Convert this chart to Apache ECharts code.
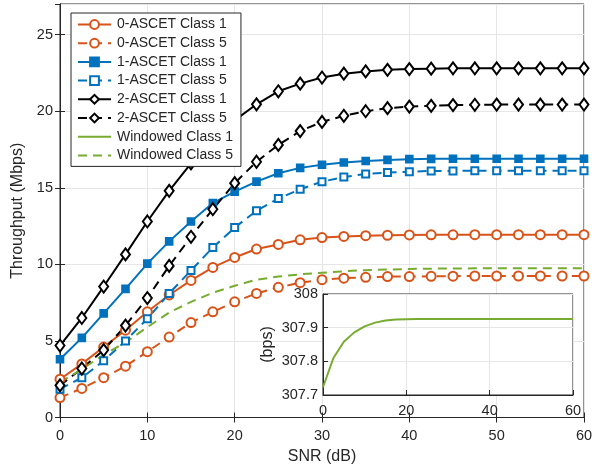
<!DOCTYPE html>
<html>
<head>
<meta charset="utf-8">
<script src="https://cdn.jsdelivr.net/npm/echarts@6/dist/echarts.min.js"></script>
<style>html,body{margin:0;padding:0;background:#fff;}#c{width:605px;height:470px;}</style>
</head>
<body>
<div id="c"></div>
<script>
const snr = [0,2.5,5,7.5,10,12.5,15,17.5,20,22.5,25,27.5,30,32.5,35,37.5,40,42.5,45,47.5,50,52.5,55,57.5,60];
const ascet0Class1 = [2.5,3.5,4.6,5.7,6.9,8.0,8.95,9.8,10.45,11.0,11.3,11.6,11.75,11.82,11.87,11.9,11.92,11.93,11.93,11.94,11.94,11.94,11.94,11.94,11.94];
const ascet0Class5 = [1.3,1.9,2.6,3.35,4.3,5.25,6.2,6.9,7.55,8.1,8.5,8.8,9.0,9.1,9.15,9.2,9.2,9.22,9.23,9.24,9.24,9.24,9.24,9.24,9.24];
const ascet1Class1 = [3.8,5.2,6.8,8.4,10.05,11.5,12.8,14.0,14.75,15.4,15.95,16.3,16.5,16.65,16.75,16.82,16.87,16.89,16.9,16.9,16.9,16.9,16.9,16.9,16.9];
const ascet1Class5 = [1.85,2.6,3.7,5.0,6.45,8.1,9.6,11.1,12.4,13.5,14.3,14.9,15.4,15.7,15.9,16.0,16.05,16.1,16.1,16.12,16.12,16.12,16.12,16.12,16.12];
const ascet2Class1 = [4.7,6.5,8.55,10.65,12.8,14.8,16.6,18.1,19.4,20.45,21.3,21.8,22.2,22.45,22.6,22.7,22.75,22.78,22.8,22.8,22.8,22.8,22.8,22.8,22.8];
const ascet2Class5 = [2.1,3.2,4.4,6.0,7.8,9.9,11.8,13.6,15.3,16.7,17.8,18.7,19.3,19.7,20.0,20.2,20.3,20.35,20.4,20.42,20.43,20.43,20.43,20.43,20.43];
const windowedClass5 = [2.3,3.15,4.1,4.9,5.9,6.85,7.55,8.15,8.6,9.0,9.2,9.35,9.45,9.55,9.62,9.66,9.7,9.72,9.73,9.74,9.75,9.75,9.75,9.75,9.75];
const windowedClass1Bps = [307.723,307.81,307.858,307.886,307.904,307.915,307.921,307.924,307.925,307.926,307.926,307.926,307.926,307.926,307.926,307.926,307.926,307.926,307.926,307.926,307.926,307.926,307.926,307.926,307.926];
const xTicks = {min:0, max:60, interval:10};
const yTicks = {min:0, max:27, interval:5};
const insetXTicks = {min:0, max:60, interval:20};
const insetYTicks = {min:307.7, max:308, interval:0.1};

const windowedClass1Mbps = windowedClass1Bps.map(v => v / 1e6);
const pairs = arr => snr.map((x, i) => [x, arr[i]]);

const ORANGE = '#D95319', BLUE = '#0072BD', BLACK = '#000000', GREEN = '#77AC30', AX = '#262626';
const FONT = 'Liberation Sans';
const TICK_FS = 14.5, TITLE_FS = 16, LEGEND_FS = 14;

function ser(name, data, color, dashed, symbol, size, extra) {
  return Object.assign({
    name, type: 'line', data: pairs(data), xAxisIndex: 0, yAxisIndex: 0,
    symbol: symbol || 'circle', symbolSize: symbol ? size : 0, showSymbol: !!symbol,
    color: color,
    lineStyle: {color, width: 2, type: dashed ? [9, 6] : 'solid'},
    itemStyle: {color, borderColor: color, borderWidth: 1.6},
    animation: false, silent: true, z: 2
  }, extra || {});
}

const axisCommon = {
  axisLine: {show: true, lineStyle: {color: AX, width: 1}},
  axisTick: {show: true, inside: true, length: 5, lineStyle: {color: AX}},
  axisLabel: {color: AX, fontFamily: FONT, fontSize: TICK_FS},
  splitLine: {show: false}
};

const noSymbol = {color: 'rgba(0,0,0,0)', borderColor: 'rgba(0,0,0,0)', opacity: 0};

const option = {
  backgroundColor: '#fff',
  animation: false,
  grid: [
    {left: 60, right: 21, top: 4, bottom: 52.5, show: true, borderColor: AX, borderWidth: 1, z: 0},
    {left: 323, top: 294, width: 250, height: 101, show: true, borderColor: AX, borderWidth: 1, backgroundColor: '#fff', z: 3}
  ],
  legend: {
    orient: 'vertical', left: 71, top: 13,
    padding: [4.5, 8, 4, 6],
    itemWidth: 33, itemHeight: 11, itemGap: 4.7,
    backgroundColor: '#fff', borderColor: AX, borderWidth: 1, borderRadius: 0,
    textStyle: {color: AX, fontFamily: FONT, fontSize: LEGEND_FS, padding: [0,0,0,1], lineHeight: 14},
    data: ['0-ASCET Class 1','0-ASCET Class 5','1-ASCET Class 1','1-ASCET Class 5','2-ASCET Class 1','2-ASCET Class 5',
      {name: 'Windowed Class 1', itemStyle: noSymbol, lineStyle: {opacity: 1, color: GREEN, width: 2}},
      {name: 'Windowed Class 5', itemStyle: noSymbol}],
    selectedMode: false, z: 10
  },
  xAxis: [
    Object.assign({}, axisCommon, {type: 'value', gridIndex: 0, position: 'bottom', ...xTicks,
      name: 'SNR (dB)', nameLocation: 'middle', nameGap: 29,
      nameTextStyle: {color: AX, fontFamily: FONT, fontSize: TITLE_FS},
      axisLabel: {color: AX, fontFamily: FONT, fontSize: TICK_FS, margin: 11},
      splitLine: {show: true, lineStyle: {color: '#e6e6e6', width: 1}}}),
    Object.assign({}, axisCommon, {type: 'value', gridIndex: 0, position: 'top', ...xTicks,
      axisLabel: {show: false}}),
    Object.assign({}, axisCommon, {type: 'value', gridIndex: 1, position: 'bottom', ...insetXTicks, z: 4,
      axisLabel: {color: AX, fontFamily: FONT, fontSize: TICK_FS, margin: 8},
      splitLine: {show: true, lineStyle: {color: '#e6e6e6', width: 1}}})
  ],
  yAxis: [
    Object.assign({}, axisCommon, {type: 'value', gridIndex: 0, position: 'left', ...yTicks,
      name: 'Throughput (Mbps)', nameLocation: 'middle', nameGap: 27,
      nameTextStyle: {color: AX, fontFamily: FONT, fontSize: TITLE_FS},
      axisLabel: {color: AX, fontFamily: FONT, fontSize: TICK_FS, margin: 7, showMaxLabel: false},
      splitLine: {show: true, lineStyle: {color: '#e6e6e6', width: 1}}}),
    Object.assign({}, axisCommon, {type: 'value', gridIndex: 0, position: 'right', ...yTicks,
      axisLabel: {show: false}}),
    Object.assign({}, axisCommon, {type: 'value', gridIndex: 1, position: 'left', ...insetYTicks, z: 4,
      name: '(bps)', nameLocation: 'middle', nameGap: 47,
      nameTextStyle: {color: AX, fontFamily: FONT, fontSize: TITLE_FS},
      axisLabel: {color: AX, fontFamily: FONT, fontSize: TICK_FS, margin: 5,
        formatter: v => String(Math.round(v * 10) / 10)},
      splitLine: {show: true, lineStyle: {color: '#e6e6e6', width: 1}}})
  ],
  series: [
    ser('0-ASCET Class 1', ascet0Class1, ORANGE, false, 'emptyCircle', 9),
    ser('0-ASCET Class 5', ascet0Class5, ORANGE, true, 'emptyCircle', 9),
    ser('1-ASCET Class 1', ascet1Class1, BLUE, false, 'rect', 7),
    ser('1-ASCET Class 5', ascet1Class5, BLUE, true, 'emptyRect', 7),
    ser('2-ASCET Class 1', ascet2Class1, BLACK, false, 'emptyDiamond', [9, 12]),
    ser('2-ASCET Class 5', ascet2Class5, BLACK, true, 'emptyDiamond', [9, 12]),
    ser('Windowed Class 1', windowedClass1Mbps, GREEN, false, null, 0,
      {lineStyle: {color: GREEN, width: 2, opacity: 0}}),
    ser('Windowed Class 5', windowedClass5, GREEN, true, null, 0),
    {name: 'inset', type: 'line', xAxisIndex: 2, yAxisIndex: 2, data: pairs(windowedClass1Bps),
     showSymbol: false, symbol: 'none', lineStyle: {color: GREEN, width: 2}, z: 5, animation: false, silent: true}
  ]
};
const chart = echarts.init(document.getElementById('c'), null, {renderer: 'canvas'});
chart.setOption(option);
</script>
</body>
</html>
